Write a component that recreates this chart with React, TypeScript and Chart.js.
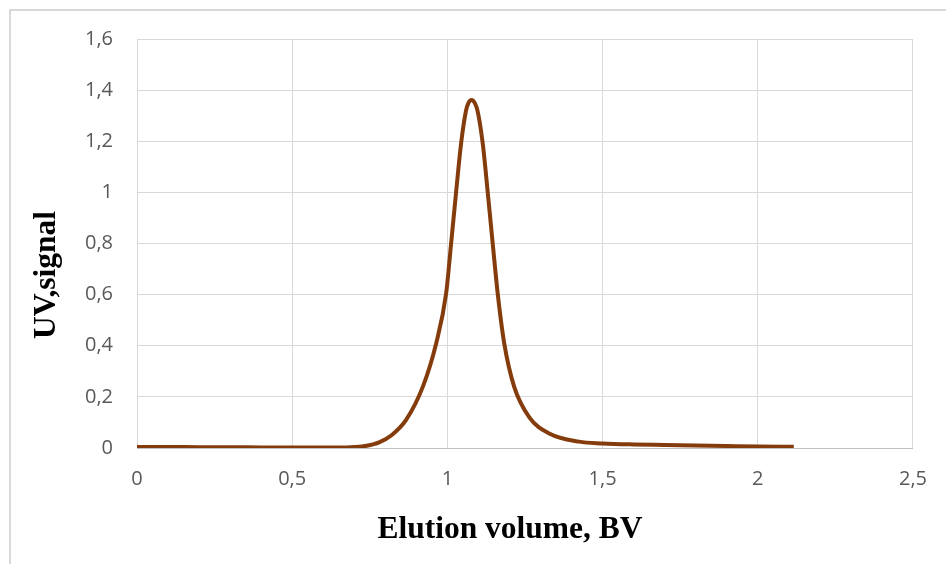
import React, { useEffect, useRef } from "react";
import { Chart, registerables } from "chart.js";

Chart.register(...registerables);

const elutionVolume = [
  0, 0.1, 0.2, 0.3, 0.4, 0.5, 0.6, 0.65, 0.7, 0.74, 0.78, 0.82, 0.867, 0.921, 0.964, 0.996,
  1.012, 1.028, 1.044, 1.06, 1.068, 1.078, 1.088, 1.097, 1.114, 1.13, 1.146, 1.162, 1.183,
  1.215, 1.264, 1.328, 1.424, 1.5, 1.6, 1.7, 1.8, 1.9, 2.0, 2.116,
];
const uvSignal = [
  0.004, 0.004, 0.003, 0.003, 0.002, 0.002, 0.002, 0.002, 0.004, 0.009, 0.022, 0.05, 0.11,
  0.24, 0.41, 0.605, 0.8, 1.0, 1.19, 1.32, 1.35, 1.361, 1.35, 1.32, 1.19, 1.0, 0.8, 0.605,
  0.41, 0.24, 0.12, 0.057, 0.025, 0.018, 0.014, 0.012, 0.01, 0.008, 0.006, 0.005,
];

const xTitle = "Elution volume, BV";
const yTitle = "UV,signal";

const fmt = (v: number) => String(Number(Number(v).toFixed(1))).replace(".", ",");

export default function App() {
  const ref = useRef<HTMLCanvasElement | null>(null);

  useEffect(() => {
    if (!ref.current) return;
    const framePlugin = {
      id: "frame",
      beforeDraw(chart: any) {
        const ctx = chart.ctx;
        ctx.save();
        ctx.fillStyle = "#ffffff";
        ctx.fillRect(0, 0, chart.width, chart.height);
        ctx.strokeStyle = "#d9d9d9";
        ctx.lineWidth = 2;
        ctx.strokeRect(10, 10, chart.width + 20, chart.height + 20);
        ctx.restore();
      },
      afterDraw(chart: any) {
        const ctx = chart.ctx;
        ctx.save();
        ctx.fillStyle = "#000000";
        ctx.font = "bold 31.5px 'Liberation Serif', 'Times New Roman', serif";
        ctx.textAlign = "center";
        ctx.textBaseline = "alphabetic";
        ctx.fillText(xTitle, 510, 538);
        ctx.translate(55, 275);
        ctx.rotate(-Math.PI / 2);
        ctx.fillText(yTitle, 0, 0);
        ctx.restore();
      },
    };

    const chart = new Chart(ref.current, {
      type: "line",
      data: {
        datasets: [
          {
            data: elutionVolume.map((x, i) => ({ x, y: uvSignal[i] })),
            borderColor: "#843c0c",
            borderWidth: 4,
            pointRadius: 0,
            fill: false,
            cubicInterpolationMode: "monotone",
          },
        ],
      },
      options: {
        responsive: false,
        animation: false,
        layout: { padding: { top: 39, right: 32, left: 0, bottom: 0 } },
        plugins: { legend: { display: false }, tooltip: { enabled: false } },
        scales: {
          x: {
            type: "linear",
            min: 0,
            max: 2.5,
            ticks: {
              stepSize: 0.5,
              padding: 19,
              color: "#595959",
              font: { family: "'Open Sans'", size: 20 },
              callback: (v: any) => fmt(v),
            },
            grid: { color: "#d9d9d9", lineWidth: 1, drawTicks: false },
            border: { display: true, color: "#bfbfbf", width: 1 },
            afterFit: (s: any) => {
              s.height = 116;
            },
          },
          y: {
            min: 0,
            max: 1.6,
            ticks: {
              stepSize: 0.2,
              padding: 24,
              color: "#595959",
              font: { family: "'Open Sans'", size: 20 },
              callback: (v: any) => fmt(v),
            },
            grid: {
              color: (c: any) => (c.tick && c.tick.value === 0 ? "#bfbfbf" : "#d9d9d9"),
              lineWidth: 1,
              drawTicks: false,
            },
            border: { display: false },
            afterFit: (s: any) => {
              s.width = 137;
            },
          },
        },
      },
      plugins: [framePlugin],
    } as any);
    return () => chart.destroy();
  }, []);

  return (
    <div style={{ position: "fixed", left: 0, top: 0, width: 946, height: 564 }}>
      <canvas ref={ref} width={946} height={564} style={{ width: 946, height: 564, display: "block" }} />
    </div>
  );
}
